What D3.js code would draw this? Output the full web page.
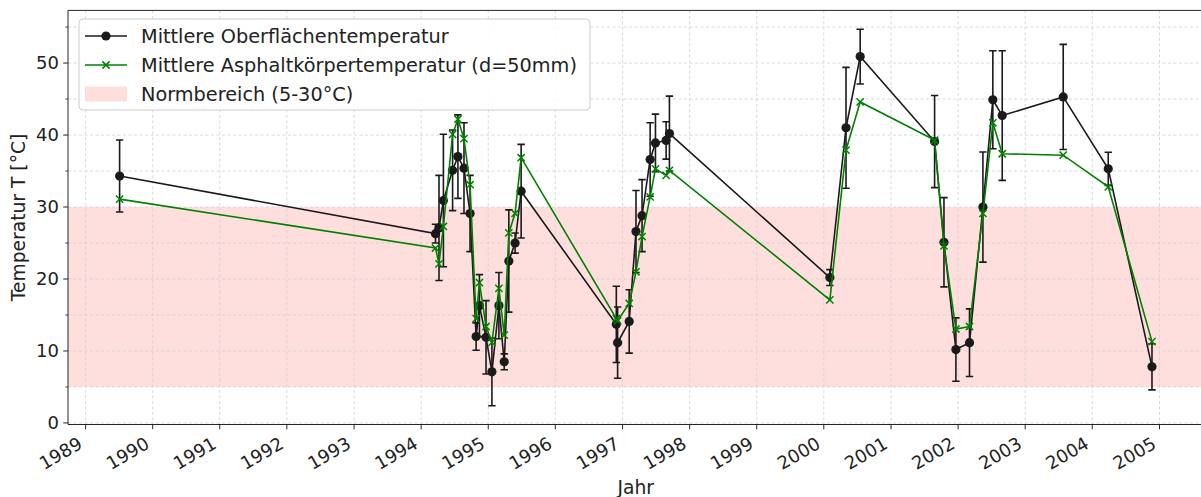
<!DOCTYPE html>
<html lang="de">
<head>
<meta charset="utf-8">
<script src="https://cdn.jsdelivr.net/npm/d3@7"></script>
<style>
  html, body { margin: 0; padding: 0; background: #fff; }
  svg { display: block; font-family: "DejaVu Sans", sans-serif; }
</style>
</head>
<body>
<svg id="chart" width="1201" height="497"></svg>
<script>
// Messtermine
const dates = [
  "1989-07-05",
  "1994-03-20", "1994-04-08", "1994-05-02", "1994-06-21", "1994-07-20", "1994-08-22",
  "1994-09-24", "1994-10-27", "1994-11-14", "1994-12-20", "1995-01-21", "1995-02-28",
  "1995-03-29", "1995-04-23", "1995-05-27", "1995-06-29",
  "1996-11-28", "1996-12-05", "1997-02-06", "1997-03-15", "1997-04-17", "1997-05-31",
  "1997-06-29", "1997-08-26", "1997-09-13",
  "2000-02-03", "2000-05-01", "2000-07-17",
  "2001-08-26", "2001-10-16", "2001-12-20", "2002-03-04", "2002-05-16", "2002-07-09",
  "2002-08-29",
  "2003-07-27", "2004-03-28", "2004-11-21"
];

// Mittlere Oberflächentemperatur [°C]
const surfaceTemp = [
  34.3,
  26.3, 27.1, 30.9, 35.1, 37.0, 35.4,
  29.1, 12.0, 16.3, 11.9, 7.1, 16.3,
  8.5, 22.5, 25.0, 32.2,
  13.7, 11.15, 14.1, 26.6, 28.8, 36.6,
  38.9, 39.25, 40.2,
  20.2, 41.0, 50.9,
  39.1, 25.1, 10.2, 11.15, 30.0, 44.9,
  42.7,
  45.3, 35.3, 7.8
];

// Standardabweichung der Oberflächentemperatur [°C]
const surfaceStd = [
  5.0,
  1.3, 7.3, 9.2, 5.6, 5.8, 6.3,
  5.3, 1.9, 4.3, 5.1, 4.7, 4.6,
  1.1, 7.1, 1.4, 6.5,
  5.3, 4.95, 4.4, 5.7, 5.0, 5.1,
  4.0, 2.6, 5.2,
  1.1, 8.4, 3.8,
  6.4, 6.2, 4.4, 4.7, 7.65, 6.8,
  9.0,
  7.3, 2.3, 3.2
];

// Mittlere Asphaltkörpertemperatur in 50 mm Tiefe [°C]
const asphaltTemp = [
  31.1,
  24.3, 22.1, 27.3, 40.1, 42.2, 39.5,
  33.1, 14.5, 19.5, 13.4, 11.2, 18.7,
  12.2, 26.4, 29.1, 36.85,
  14.5, 14.2, 16.6, 21.0, 25.9, 31.4,
  35.3, 34.4, 35.1,
  17.1, 37.9, 44.6,
  39.3, 24.6, 13.05, 13.4, 29.1, 41.7,
  37.4,
  37.2, 32.8, 11.3
];

// Normbereich
const normRange = [5, 30];
const yTicks = [0, 10, 20, 30, 40, 50];
const yMinorTicks = [5, 15, 25, 35, 45, 55];
const xTickYears = d3.range(1989, 2006);

const legendLabels = [
  "Mittlere Oberflächentemperatur",
  "Mittlere Asphaltkörpertemperatur (d=50mm)",
  "Normbereich (5-30°C)"
];

const parse = d3.timeParse("%Y-%m-%d");
const rows = dates.map((d, i) => ({
  date: parse(d),
  surf: surfaceTemp[i],
  std: surfaceStd[i],
  asph: asphaltTemp[i]
}));

const svg = d3.select("#chart");
const plot = { left: 68, right: 1203.6, top: 10.4, bottom: 424.5 };

// Achsenbereiche mit 5 % Rand
const tExt = d3.extent(rows, d => +d.date);
const tPad = 0.05 * (tExt[1] - tExt[0]);
const x = d3.scaleTime()
  .domain([new Date(tExt[0] - tPad), new Date(tExt[1] + tPad)])
  .range([plot.left, plot.right]);

const yLo = Math.min(normRange[0], d3.min(rows, d => Math.min(d.surf - d.std, d.asph)));
const yHi = Math.max(normRange[1], d3.max(rows, d => Math.max(d.surf + d.std, d.asph)));
const yPad = 0.05 * (yHi - yLo);
const y = d3.scaleLinear()
  .domain([yLo - yPad, yHi + yPad])
  .range([plot.bottom, plot.top]);

svg.append("clipPath").attr("id", "plotclip")
  .append("rect")
  .attr("x", plot.left).attr("y", plot.top)
  .attr("width", plot.right - plot.left).attr("height", plot.bottom - plot.top);

// Normbereich
svg.append("rect")
  .attr("x", plot.left)
  .attr("y", y(normRange[1]))
  .attr("width", plot.right - plot.left)
  .attr("height", y(normRange[0]) - y(normRange[1]))
  .attr("fill", "red")
  .attr("fill-opacity", 0.13);

// Gitter
const grid = svg.append("g").attr("clip-path", "url(#plotclip)");
const xTickDates = xTickYears.map(yr => new Date(yr, 0, 1));
grid.selectAll("line.vx").data(xTickDates).join("line")
  .attr("x1", d => x(d)).attr("x2", d => x(d))
  .attr("y1", plot.top).attr("y2", plot.bottom)
  .attr("stroke", "#d0d0d0").attr("stroke-width", 0.8)
  .attr("stroke-dasharray", "3,2.5");
grid.selectAll("line.hy").data(yTicks.concat(yMinorTicks)).join("line")
  .attr("x1", plot.left).attr("x2", plot.right)
  .attr("y1", d => y(d)).attr("y2", d => y(d))
  .attr("stroke", "#d0d0d0").attr("stroke-width", 0.8)
  .attr("stroke-dasharray", "3,2.5");

const dark = "#1a1a1a";
const green = "#008000";

const data = svg.append("g").attr("clip-path", "url(#plotclip)");

// Fehlerbalken der Oberflächentemperatur
const cap = 3.7;
const eb = data.append("g").attr("stroke", dark).attr("stroke-width", 1.6);
rows.forEach(d => {
  const cx = x(d.date), y1 = y(d.surf + d.std), y2 = y(d.surf - d.std);
  eb.append("line").attr("x1", cx).attr("x2", cx).attr("y1", y1).attr("y2", y2);
  eb.append("line").attr("x1", cx - cap).attr("x2", cx + cap).attr("y1", y1).attr("y2", y1);
  eb.append("line").attr("x1", cx - cap).attr("x2", cx + cap).attr("y1", y2).attr("y2", y2);
});

// Oberflächentemperatur
data.append("path")
  .datum(rows)
  .attr("fill", "none").attr("stroke", dark).attr("stroke-width", 1.6)
  .attr("d", d3.line().x(d => x(d.date)).y(d => y(d.surf)));
data.selectAll("circle.s").data(rows).join("circle")
  .attr("cx", d => x(d.date)).attr("cy", d => y(d.surf)).attr("r", 4.6)
  .attr("fill", dark);

// Asphaltkörpertemperatur
data.append("path")
  .datum(rows)
  .attr("fill", "none").attr("stroke", green).attr("stroke-width", 1.6)
  .attr("d", d3.line().x(d => x(d.date)).y(d => y(d.asph)));
const xm = 3.6;
data.selectAll("path.m").data(rows).join("path")
  .attr("d", d => {
    const cx = x(d.date), cy = y(d.asph);
    return `M${cx - xm},${cy - xm}L${cx + xm},${cy + xm}M${cx - xm},${cy + xm}L${cx + xm},${cy - xm}`;
  })
  .attr("stroke", green).attr("stroke-width", 1.5).attr("fill", "none");

// Rahmen
const spine = "#262626";
[[plot.left, plot.top, plot.left, plot.bottom],
 [plot.left, plot.bottom, plot.right, plot.bottom],
 [plot.left, plot.top, plot.right, plot.top],
 [plot.right, plot.top, plot.right, plot.bottom]].forEach(s => {
  svg.append("line").attr("x1", s[0]).attr("y1", s[1]).attr("x2", s[2]).attr("y2", s[3])
    .attr("stroke", spine).attr("stroke-width", 1);
});

// y-Achse
const yAxis = svg.append("g");
yAxis.selectAll("line.maj").data(yTicks).join("line")
  .attr("x1", plot.left - 4.8).attr("x2", plot.left)
  .attr("y1", d => y(d)).attr("y2", d => y(d))
  .attr("stroke", spine).attr("stroke-width", 1);
yAxis.selectAll("line.min").data(yMinorTicks).join("line")
  .attr("x1", plot.left - 2.8).attr("x2", plot.left)
  .attr("y1", d => y(d)).attr("y2", d => y(d))
  .attr("stroke", spine).attr("stroke-width", 0.8);
yAxis.selectAll("text").data(yTicks).join("text")
  .attr("x", plot.left - 9)
  .attr("y", d => y(d) + 6.4)
  .attr("text-anchor", "end")
  .attr("font-size", 18)
  .attr("fill", "#222")
  .text(d => d);

// x-Achse: gedrehte Beschriftung, rechte obere Ecke der gedrehten Box am Tick
const xAxis = svg.append("g");
xAxis.selectAll("line").data(xTickDates).join("line")
  .attr("x1", d => x(d)).attr("x2", d => x(d))
  .attr("y1", plot.bottom).attr("y2", plot.bottom + 4.8)
  .attr("stroke", spine).attr("stroke-width", 1);
const ang = -30 * Math.PI / 180;
xTickDates.forEach(d => {
  const g = xAxis.append("g");
  const t = g.append("text")
    .attr("transform", "rotate(-30)")
    .attr("text-anchor", "end")
    .attr("font-size", 18)
    .attr("fill", "#222")
    .text(d3.timeFormat("%Y")(d));
  const b = t.node().getBBox();
  const corners = [[b.x, b.y], [b.x + b.width, b.y], [b.x, b.y + b.height], [b.x + b.width, b.y + b.height]]
    .map(([px, py]) => [px * Math.cos(ang) - py * Math.sin(ang), px * Math.sin(ang) + py * Math.cos(ang)]);
  const maxX = d3.max(corners, c => c[0]);
  const minY = d3.min(corners, c => c[1]);
  g.attr("transform", `translate(${x(d) - maxX},${plot.bottom + 8 - minY})`);
});

// Achsentitel
svg.append("text")
  .attr("x", (plot.left + plot.right) / 2)
  .attr("y", 493.5)
  .attr("text-anchor", "middle")
  .attr("font-size", 18.7)
  .attr("fill", "#222")
  .text("Jahr");
svg.append("text")
  .attr("transform", `translate(25,${(plot.top + plot.bottom) / 2}) rotate(-90)`)
  .attr("text-anchor", "middle")
  .attr("font-size", 18.7)
  .attr("fill", "#222")
  .text("Temperatur T [°C]");

// Legende
const lg = svg.append("g");
lg.append("rect")
  .attr("x", 79).attr("y", 19).attr("width", 511).attr("height", 91)
  .attr("rx", 4).attr("ry", 4)
  .attr("fill", "#fff").attr("fill-opacity", 0.85)
  .attr("stroke", "#cccccc").attr("stroke-width", 1);
const rowY = [36, 65, 94];
lg.append("line").attr("x1", 85).attr("x2", 127).attr("y1", rowY[0]).attr("y2", rowY[0])
  .attr("stroke", dark).attr("stroke-width", 1.6);
lg.append("circle").attr("cx", 106).attr("cy", rowY[0]).attr("r", 4.6).attr("fill", dark);
lg.append("line").attr("x1", 85).attr("x2", 127).attr("y1", rowY[1]).attr("y2", rowY[1])
  .attr("stroke", green).attr("stroke-width", 1.6);
lg.append("path")
  .attr("d", `M${106 - xm},${rowY[1] - xm}L${106 + xm},${rowY[1] + xm}M${106 - xm},${rowY[1] + xm}L${106 + xm},${rowY[1] - xm}`)
  .attr("stroke", green).attr("stroke-width", 1.5);
lg.append("rect").attr("x", 85).attr("y", rowY[2] - 7.5).attr("width", 42).attr("height", 15)
  .attr("fill", "red").attr("fill-opacity", 0.13);
lg.selectAll("text").data(legendLabels).join("text")
  .attr("x", 141)
  .attr("y", (d, i) => rowY[i] + 7)
  .attr("font-size", 19.3)
  .attr("fill", "#222")
  .text(d => d);
</script>
</body>
</html>
